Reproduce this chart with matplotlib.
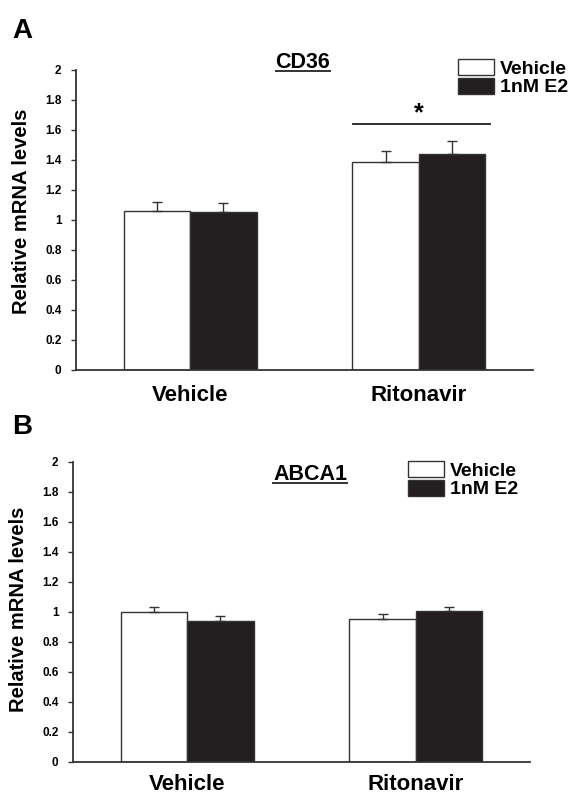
import numpy as np
import matplotlib.pyplot as plt
from matplotlib.lines import Line2D

plt.rcParams['font.family'] = ['Liberation Sans', 'DejaVu Sans']
plt.rcParams['font.weight'] = 'bold'

W, H = 574, 794

# data
groups = ['Vehicle', 'Ritonavir']
series = ['Vehicle', '1nM E2']
yticks = [0, 0.2, 0.4, 0.6, 0.8, 1, 1.2, 1.4, 1.6, 1.8, 2]
ytick_labels = ['0', '0.2', '0.4', '0.6', '0.8', '1', '1.2', '1.4', '1.6', '1.8', '2']

cd36_veh = [1.06, 1.385]
cd36_veh_err = [0.06, 0.072]
cd36_e2 = [1.055, 1.44]
cd36_e2_err = [0.06, 0.085]

abca1_veh = [1.0, 0.955]
abca1_veh_err = [0.033, 0.032]
abca1_e2 = [0.94, 1.005]
abca1_e2_err = [0.033, 0.03]

DARK = '#231f20'
EDGE = '#333333'


def fx(px):
    return px / W


def fy(py):
    return 1 - py / H


def draw_panel(ax, veh, veh_err, e2, e2_err, xpad):
    x = np.arange(len(groups))
    w = 0.29
    b1 = ax.bar(x - w / 2, veh, w, color='white', edgecolor=EDGE, linewidth=1.0, zorder=2)
    b2 = ax.bar(x + w / 2, e2, w, color=DARK, edgecolor=EDGE, linewidth=1.0, zorder=2)
    ax.errorbar(x - w / 2, veh, yerr=[np.zeros(len(veh)), veh_err], fmt='none',
                ecolor=EDGE, elinewidth=1.0, capsize=3.5, capthick=1.0, zorder=3)
    ax.errorbar(x + w / 2, e2, yerr=[np.zeros(len(e2)), e2_err], fmt='none',
                ecolor=EDGE, elinewidth=1.0, capsize=3.5, capthick=1.0, zorder=3)
    ax.set_xlim(-0.5, 1.5)
    ax.set_ylim(0, 2)
    ax.set_yticks(yticks)
    ax.set_yticklabels(ytick_labels, fontsize=8.5, fontweight='bold')
    ax.set_xticks(x)
    ax.set_xticklabels(groups, fontsize=16, fontweight='bold')
    ax.tick_params(axis='x', length=0, pad=xpad)
    ax.tick_params(axis='y', length=3.5, width=1.0, pad=7, color=EDGE)
    for s in ['top', 'right']:
        ax.spines[s].set_visible(False)
    for s in ['left', 'bottom']:
        ax.spines[s].set_linewidth(1.3)
        ax.spines[s].set_color(EDGE)
    ax.set_ylabel('Relative mRNA levels', fontsize=14.5, fontweight='bold')
    return b1, b2


def add_legend(ax, handles, x0, y0):
    ax.legend(handles, series, loc='upper left', bbox_to_anchor=(fx(x0), fy(y0)),
              bbox_transform=fig.transFigure, frameon=False, fontsize=14,
              handlelength=1.85, handleheight=0.88, handletextpad=0.3,
              labelspacing=0.0, borderpad=0, borderaxespad=0)


def add_title(text, xc, yb):
    t = fig.text(fx(xc), fy(yb), text, ha='center', va='baseline', fontsize=15.5,
                 fontweight='bold')
    fig.canvas.draw()
    bb = t.get_window_extent()
    fig.add_artist(Line2D([bb.x0 / W, bb.x1 / W], [fy(yb + 2.5)] * 2,
                          transform=fig.transFigure, color=EDGE, lw=1.4))


fig = plt.figure(figsize=(W / 100, H / 100), dpi=100)

# panel A
axA = fig.add_axes([fx(76), fy(370), 457 / W, 300 / H])
hA = draw_panel(axA, cd36_veh, cd36_veh_err, cd36_e2, cd36_e2_err, 11)
axA.yaxis.set_label_coords(-0.098, 0.53)
add_legend(axA, hA, 458, 59)
axA.plot([0.714, 1.311], [1.64, 1.64], color=DARK, lw=1.3, clip_on=False)
axA.text(1.0, 1.665, '*', ha='center', va='baseline', fontsize=18, fontweight='bold')

# panel B
axB = fig.add_axes([fx(73), fy(762), 457 / W, 300 / H])
hB = draw_panel(axB, abca1_veh, abca1_veh_err, abca1_e2, abca1_e2_err, 9)
axB.yaxis.set_label_coords(-0.098, 0.51)
add_legend(axB, hB, 408, 461)

fig.text(fx(12.5), fy(38.3), 'A', fontsize=20, fontweight='bold', va='baseline')
fig.text(fx(12), fy(434), 'B', fontsize=20, fontweight='bold', va='baseline')

add_title('CD36', 303, 68.3)
add_title('ABCA1', 310, 480)

fig.savefig('out.png', dpi=100)
